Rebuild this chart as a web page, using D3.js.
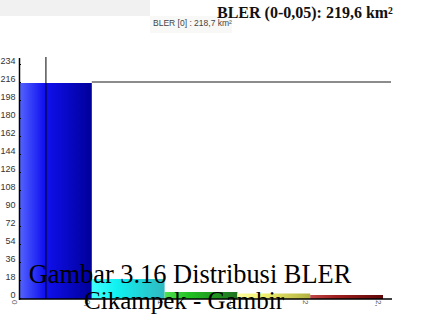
<!DOCTYPE html>
<html>
<head>
<meta charset="utf-8">
<script src="https://cdn.jsdelivr.net/npm/d3@7"></script>
<style>
  body { margin: 0; background: #fff; }
  svg { display: block; }
</style>
</head>
<body>
<svg id="chart" width="442" height="315"></svg>
<script>
// BLER distribution bins
var binStarts = [0, 0.5, 1, 1.5, 2];
var binValues = [215, 19, 6, 4.5, 3];
var xTickValues = [0, 0.5, 1, 1.5, 2, 2.5];
var xTickLabels = ["0", "0,5", "1", "1,5", "2", "2,5"];
var yTickValues = [0, 18, 36, 54, 72, 90, 108, 126, 144, 162, 180, 198, 216, 234];
var refValue = 216;
var markerValue = 0.185;

var colors = [
    ["#5566ff", "#1010f0", "#00009a"],
    ["#40ffff", "#10f0f0", "#30b8c0"],
    ["#50e050", "#20c020", "#207020"],
    ["#ffffa0", "#f0f070", "#b0b040"],
    ["#c04848", "#a02020", "#600808"]
];

var svg = d3.select("#chart");

var x = d3.scaleLinear().domain([0, 2.5]).range([19, 383]);
var y = d3.scaleLinear().domain([0, 234]).range([298, 64]);

// gradients for the bars
var defs = svg.append("defs");
colors.forEach(function (c, i) {
    var g = defs.append("linearGradient")
        .attr("id", "grad" + i)
        .attr("x1", "0%").attr("x2", "100%")
        .attr("y1", "0%").attr("y2", "0%");
    g.append("stop").attr("offset", "0%").attr("stop-color", c[0]);
    g.append("stop").attr("offset", "35%").attr("stop-color", c[1]);
    g.append("stop").attr("offset", "100%").attr("stop-color", c[2]);
});
defs.append("clipPath").attr("id", "tickclip")
    .append("rect").attr("x", 0).attr("y", 299).attr("width", 442).attr("height", 7);

// header strip and labels
svg.append("rect").attr("x", 0).attr("y", 0).attr("width", 150).attr("height", 16).attr("fill", "#f1f1f1");
svg.append("rect").attr("x", 150).attr("y", 16).attr("width", 82).attr("height", 17).attr("fill", "#f8f8f6");
svg.append("text")
    .attr("x", 153).attr("y", 26)
    .attr("font-family", "Liberation Sans, Arial, sans-serif")
    .attr("font-size", 8.5).attr("fill", "#444")
    .html("BLER [0] : 218,7 km²");
svg.append("text")
    .attr("x", 217).attr("y", 18)
    .attr("font-family", "Liberation Serif, Times New Roman, serif")
    .attr("font-size", 16).attr("font-weight", "bold").attr("fill", "#111")
    .text("BLER (0-0,05): 219,6 km²");

// bars
svg.selectAll(".bar")
    .data(binValues)
    .enter()
    .append("rect")
    .attr("class", "bar")
    .attr("x", function (d, i) { return x(binStarts[i]); })
    .attr("y", function (d) { return y(d); })
    .attr("width", function (d, i) { return x(binStarts[i] + 0.5) - x(binStarts[i]); })
    .attr("height", function (d) { return 299 - y(d); })
    .attr("fill", function (d, i) { return "url(#grad" + i + ")"; });

// reference line
svg.append("line")
    .attr("x1", x(0.5)).attr("x2", 391)
    .attr("y1", y(refValue)).attr("y2", y(refValue))
    .attr("stroke", "#666").attr("stroke-width", 1.5);

// marker line
svg.append("line")
    .attr("x1", x(markerValue)).attr("x2", x(markerValue))
    .attr("y1", 57).attr("y2", 299)
    .attr("stroke", "#000").attr("stroke-width", 1);

// y axis
var yAxis = d3.axisRight(y).tickValues(yTickValues).tickSize(2).tickPadding(0).tickFormat("");
svg.append("g")
    .attr("transform", "translate(19,0)")
    .call(yAxis)
    .call(function (g) { g.select(".domain").remove(); });
svg.append("line")
    .attr("x1", 19.5).attr("x2", 19.5).attr("y1", 58).attr("y2", 300)
    .attr("stroke", "#000").attr("stroke-width", 1.5);
svg.selectAll(".ylab")
    .data(yTickValues)
    .enter()
    .append("text")
    .attr("class", "ylab")
    .attr("x", 15.5).attr("y", function (d) { return y(d) - 3; })
    .attr("dy", "0.35em")
    .attr("text-anchor", "end")
    .attr("font-family", "Liberation Sans, Arial, sans-serif")
    .attr("font-size", 9).attr("fill", "#333")
    .text(function (d) { return d; });

// x axis
svg.append("line")
    .attr("x1", 19).attr("x2", 392).attr("y1", 299).attr("y2", 299)
    .attr("stroke", "#000").attr("stroke-width", 1.5);
svg.append("g")
    .attr("clip-path", "url(#tickclip)")
    .selectAll(".xlab")
    .data(xTickValues)
    .enter()
    .append("text")
    .attr("class", "xlab")
    .attr("transform", function (d) { return "translate(" + (x(d) - 7) + ",300) rotate(90)"; })
    .attr("font-family", "Liberation Sans, Arial, sans-serif")
    .attr("font-size", 8).attr("fill", "#555")
    .text(function (d, i) { return xTickLabels[i]; });

// caption
var caption = svg.append("text")
    .attr("font-family", "Liberation Serif, Times New Roman, serif")
    .attr("fill", "#000")
    .attr("text-anchor", "middle");
caption.append("tspan").attr("x", 190).attr("y", 283).attr("font-size", 26.4).text("Gambar 3.16 Distribusi BLER");
caption.append("tspan").attr("x", 184).attr("y", 309).attr("font-size", 25).text("Cikampek - Gambir");
</script>
</body>
</html>
